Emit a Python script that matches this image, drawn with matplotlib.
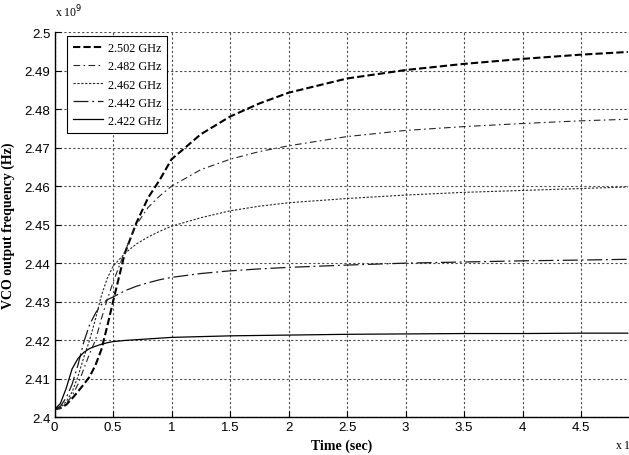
import matplotlib
matplotlib.use('Agg')
import matplotlib.pyplot as plt
from matplotlib.ticker import FormatStrFormatter, MultipleLocator

# time axis (x 1e-4 sec) and VCO frequency in GHz (axis shows x 10^9 Hz)
t = [0, 0.05, 0.1, 0.15, 0.2, 0.25, 0.3, 0.35, 0.4, 0.45, 0.5, 0.6, 0.7, 0.8,
     0.9, 1.0, 1.25, 1.5, 1.75, 2.0, 2.5, 3.0, 3.5, 4.0, 4.5, 4.9]

f_2502 = [2.402, 2.4023, 2.4032, 2.4048, 2.4066, 2.4085, 2.4105, 2.4135, 2.4175,
          2.4235, 2.4300, 2.4425, 2.4505, 2.4570, 2.4617, 2.4670, 2.4735, 2.4781,
          2.4815, 2.4843, 2.4880, 2.4902, 2.4918, 2.4931, 2.4942, 2.4949]
f_2482 = [2.402, 2.4023, 2.4035, 2.4055, 2.4085, 2.4125, 2.4165, 2.4200, 2.4255,
          2.4305, 2.4350, 2.4430, 2.4500, 2.4545, 2.4575, 2.4600, 2.4643, 2.4670,
          2.4690, 2.4705, 2.4729, 2.4745, 2.4755, 2.4763, 2.4770, 2.4774]
f_2462 = [2.402, 2.4025, 2.4040, 2.4065, 2.4105, 2.4155, 2.4200, 2.4255, 2.4315,
          2.4360, 2.4392, 2.4425, 2.4450, 2.4468, 2.4483, 2.4496, 2.4518, 2.4536,
          2.4548, 2.4557, 2.4568, 2.4577, 2.4584, 2.4589, 2.4594, 2.4598]
f_2442 = [2.402, 2.4028, 2.4050, 2.4085, 2.4135, 2.4195, 2.4240, 2.4270, 2.4292,
          2.4305, 2.4312, 2.4328, 2.4340, 2.4349, 2.4357, 2.4363, 2.4373, 2.4380,
          2.4385, 2.4389, 2.4395, 2.4400, 2.4403, 2.4406, 2.4408, 2.4410]
f_2422 = [2.402, 2.4035, 2.4075, 2.4125, 2.4152, 2.4168, 2.4178, 2.4184, 2.4189,
          2.4193, 2.4196, 2.4199, 2.4201, 2.4203, 2.4205, 2.4207, 2.4209, 2.4211,
          2.4212, 2.4213, 2.4215, 2.4216, 2.4217, 2.4217, 2.4218, 2.4218]

labels = ['2.502 GHz', '2.482 GHz', '2.462 GHz', '2.442 GHz', '2.422 GHz']

serif = ['Liberation Serif', 'DejaVu Serif']
narrow = ['Liberation Sans Narrow', 'Liberation Sans', 'DejaVu Sans']

fig = plt.figure(figsize=(6.29, 4.56), dpi=100)
ax = fig.add_axes([0.0867, 0.0833, 0.9133, 0.8436])

ax.plot(t, f_2502, color='black', lw=1.5, linestyle=(0, (3.5, 1.5)), label=labels[0])
ax.plot(t, f_2482, color='0.15', lw=0.8, linestyle=(0, (6, 3, 1.5, 3)), label=labels[1])
ax.plot(t, f_2462, color='0.15', lw=0.8, linestyle=(0, (2, 1.5)), label=labels[2])
ax.plot(t, f_2442, color='0.1', lw=0.9, linestyle=(0, (12, 3, 1.5, 3)), label=labels[3])
ax.plot(t, f_2422, color='black', lw=0.9, linestyle='-', label=labels[4])

ax.set_xlim(0, 4.91)
ax.set_ylim(2.4, 2.5)
ax.xaxis.set_major_locator(MultipleLocator(0.5))
ax.yaxis.set_major_locator(MultipleLocator(0.01))
ax.xaxis.set_major_formatter(FormatStrFormatter('%g'))
ax.yaxis.set_major_formatter(FormatStrFormatter('%g'))
ax.tick_params(direction='in', length=4, width=0.8, labelsize=9.5, pad=3)
for lab in ax.get_xticklabels() + ax.get_yticklabels():
    lab.set_family(narrow)

ax.grid(True, color='0.3', linestyle=(0, (2, 2)), lw=0.8)
ax.spines['top'].set_visible(False)
ax.spines['right'].set_visible(False)
ax.spines['left'].set_linewidth(1.0)
ax.spines['bottom'].set_linewidth(1.0)

ax.set_xlabel('Time (sec)', family=serif, fontweight='bold', fontsize=10, labelpad=4)
ax.set_ylabel('VCO output frequency (Hz)', family=serif, fontweight='bold', fontsize=10)
ax.yaxis.set_label_coords(-0.069, 0.5)

fig.text(0.087, 0.955, r'x 10$^9$', family=serif, fontsize=8.5, ha='left', va='bottom')
fig.text(0.977, 0.005, r'x 10$^{-4}$', family=serif, fontsize=8.5, ha='left', va='bottom')

leg = ax.legend(loc='upper left', bbox_to_anchor=(0.022, 0.99), prop={'family': serif, 'size': 8.8},
                frameon=True, fancybox=False, edgecolor='black', framealpha=1,
                handlelength=2.4, handletextpad=0.4, labelspacing=0.5, borderpad=0.5,
                borderaxespad=0)
leg.get_frame().set_linewidth(0.8)

fig.savefig('out.png', dpi=100)
